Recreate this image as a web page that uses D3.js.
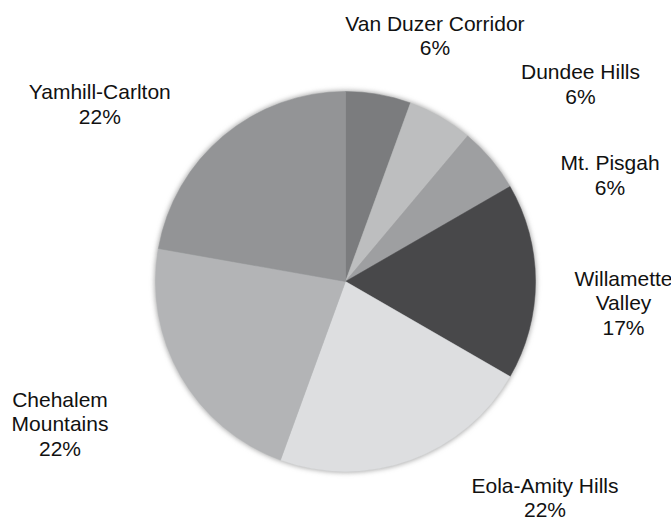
<!DOCTYPE html>
<html>
<head>
<meta charset="utf-8">
<script src="https://cdn.jsdelivr.net/npm/d3@7"></script>
<style>
  html, body { margin: 0; padding: 0; background: #ffffff; }
  svg { display: block; }
  text { font-family: "Liberation Sans", Arial, Helvetica, sans-serif; fill: #111111; }
</style>
</head>
<body>
<svg id="chart" width="671" height="517"></svg>
<script>
// Wineries by AVA (counts), clockwise from 12 o'clock
const regions = ["Van Duzer Corridor", "Dundee Hills", "Mt. Pisgah", "Willamette Valley",
                 "Eola-Amity Hills", "Chehalem Mountains", "Yamhill-Carlton"];
const counts = [1, 1, 1, 3, 4, 4, 4];

// How each name breaks onto lines
const labelLines = [
  ["Van Duzer Corridor"],
  ["Dundee Hills"],
  ["Mt. Pisgah"],
  ["Willamette", "Valley"],
  ["Eola-Amity Hills"],
  ["Chehalem", "Mountains"],
  ["Yamhill-Carlton"]
];

// Slice fills (greyscale)
const fills = ["#7b7c7e", "#bdbebf", "#9e9fa1", "#48484a", "#dddee0", "#b3b4b6", "#939496"];

// Label nudges away from the outer-ring anchor point
const labelNudge = [[46, 0], [110, 19], [73, 54], [28, 21], [114, -19], [-69, 17], [-85, 14]];

const width = 671, height = 517;
const cx = 345.5, cy = 281.5, radius = 190;
const labelRadius = 250, fontSize = 21, lineGap = 24.5, capHeight = 15;

const svg = d3.select("#chart");

const defs = svg.append("defs");
defs.append("filter")
  .attr("id", "soft-shadow")
  .attr("x", "-10%").attr("y", "-10%").attr("width", "120%").attr("height", "120%")
  .append("feGaussianBlur").attr("stdDeviation", 2.6);

const g = svg.append("g").attr("transform", `translate(${cx},${cy})`);

const total = d3.sum(counts);
const data = regions.map((name, i) => ({ name, value: counts[i], i }));

const pie = d3.pie().value(d => d.value).sort(null);
const arcs = pie(data);

const arc = d3.arc().innerRadius(0).outerRadius(radius);
const labelArc = d3.arc().innerRadius(labelRadius).outerRadius(labelRadius);

// soft halo round the disc
g.append("circle")
  .attr("r", radius + 1)
  .attr("fill", "#a9a9a9")
  .attr("filter", "url(#soft-shadow)");

g.selectAll("path.slice")
  .data(arcs)
  .join("path")
  .attr("class", "slice")
  .attr("d", arc)
  .attr("fill", d => fills[d.data.i])
  .attr("stroke", d => fills[d.data.i])
  .attr("stroke-width", 0.5);

const labels = g.selectAll("text.lbl")
  .data(arcs)
  .join("text")
  .attr("class", "lbl")
  .attr("text-anchor", "middle")
  .attr("font-size", fontSize)
  .each(function(d) {
    const i = d.data.i;
    const [ax, ay] = labelArc.centroid(d);
    const x = ax + labelNudge[i][0];
    const yc = ay + labelNudge[i][1];
    const lines = labelLines[i].concat([Math.round(d.data.value / total * 100) + "%"]);
    const n = lines.length;
    const y0 = yc - ((n - 1) * lineGap - capHeight) / 2;
    const t = d3.select(this);
    lines.forEach((s, k) => {
      t.append("tspan").attr("x", x).attr("y", y0 + k * lineGap).text(s);
    });
  });
</script>
</body>
</html>
